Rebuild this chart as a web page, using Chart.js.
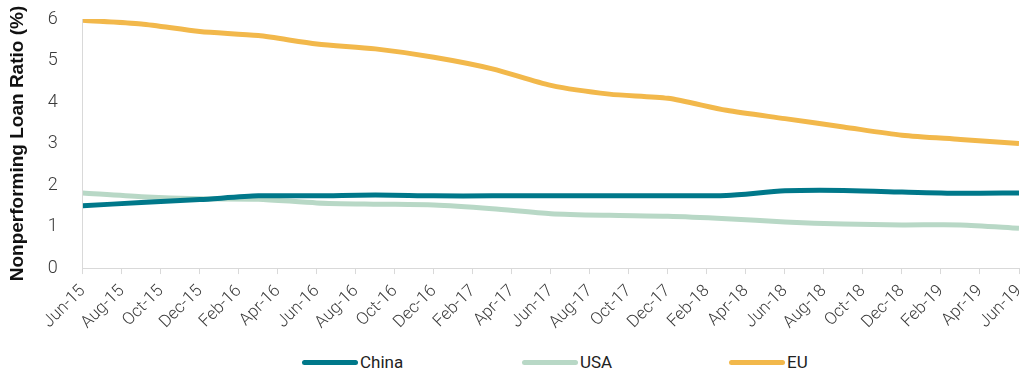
<!DOCTYPE html>
<html>
<head>
<meta charset="utf-8">
<script src="https://cdn.jsdelivr.net/npm/chart.js@4.4.1/dist/chart.umd.min.js"></script>
<style>
  html, body { margin: 0; padding: 0; background: #fff; }
  #page { position: relative; width: 1021px; height: 370px; overflow: hidden; }
  #wrap { position: absolute; left: 0; top: 0; width: 1021px; height: 344px; }
  #legend { position: absolute; left: 302px; top: 352px; display: flex; font-family: Roboto, 'Liberation Sans', sans-serif; font-size: 17px; color: #222; }
  .item { display: flex; align-items: center; height: 20px; }
  .swatch { width: 56px; height: 5px; border-radius: 3px; margin-right: 2px; }
</style>
</head>
<body>
<div id="page">
  <div id="wrap"><canvas id="nplChart"></canvas></div>
  <div id="legend"></div>
</div>
<script>
// 季度数据（2015年6月 - 2019年6月）
const quarters = ['Jun-15', 'Sep-15', 'Dec-15', 'Mar-16', 'Jun-16', 'Sep-16', 'Dec-16', 'Mar-17', 'Jun-17',
                  'Sep-17', 'Dec-17', 'Mar-18', 'Jun-18', 'Sep-18', 'Dec-18', 'Mar-19', 'Jun-19'];
const chinaValues = [1.50, 1.58, 1.65, 1.74, 1.74, 1.76, 1.74, 1.74, 1.74, 1.74, 1.74, 1.75, 1.86, 1.87, 1.83, 1.80, 1.81];
const usaValues = [1.81, 1.72, 1.67, 1.66, 1.57, 1.54, 1.52, 1.43, 1.31, 1.27, 1.25, 1.19, 1.11, 1.06, 1.04, 1.04, 0.96];
const euValues = [5.97, 5.88, 5.70, 5.60, 5.40, 5.28, 5.08, 4.80, 4.40, 4.19, 4.09, 3.80, 3.60, 3.40, 3.20, 3.10, 3.00];

// x轴刻度标签（每两个月）
const tickLabels = ['Jun-15', 'Aug-15', 'Oct-15', 'Dec-15', 'Feb-16', 'Apr-16', 'Jun-16', 'Aug-16', 'Oct-16',
                    'Dec-16', 'Feb-17', 'Apr-17', 'Jun-17', 'Aug-17', 'Oct-17', 'Dec-17', 'Feb-18', 'Apr-18',
                    'Jun-18', 'Aug-18', 'Oct-18', 'Dec-18', 'Feb-19', 'Apr-19', 'Jun-19'];

// 季度 -> 月份序号（从 Jun-15 起）
function toPoints(values) {
    return values.map((v, i) => ({ x: i * 3, y: v }));
}

const axisColor = '#d9d9d9';
const textColor = '#3a3a3a';
const fontFamily = "Roboto, 'Liberation Sans', sans-serif";

function makeDataset(label, values, color) {
    return {
        label: label,
        data: toPoints(values),
        borderColor: color,
        backgroundColor: color,
        borderWidth: 5,
        pointRadius: 0,
        tension: 0.25,
        fill: false
    };
}

const datasets = [
    makeDataset('China', chinaValues, '#00788a'),
    makeDataset('USA', usaValues, '#b8d8c6'),
    makeDataset('EU', euValues, '#f2b84b')
];

// 图例（HTML）
const legendWidths = [220, 207, 120];
const legendEl = document.getElementById('legend');
datasets.forEach((ds, i) => {
    const item = document.createElement('div');
    item.className = 'item';
    item.style.width = legendWidths[i] + 'px';
    const sw = document.createElement('span');
    sw.className = 'swatch';
    sw.style.background = ds.borderColor;
    const txt = document.createElement('span');
    txt.textContent = ds.label;
    item.appendChild(sw);
    item.appendChild(txt);
    legendEl.appendChild(item);
});

const ctx = document.getElementById('nplChart').getContext('2d');
new Chart(ctx, {
    type: 'line',
    data: { datasets: datasets },
    options: {
        responsive: true,
        maintainAspectRatio: false,
        animation: false,
        layout: { padding: { top: 0, right: 2, left: 6, bottom: 4 } },
        plugins: {
            legend: { display: false },
            tooltip: { enabled: false }
        },
        scales: {
            x: {
                type: 'linear',
                min: 0,
                max: 48,
                afterFit: function(scale) {
                    scale.paddingRight = 0;
                },
                grid: {
                    drawOnChartArea: false,
                    color: axisColor,
                    tickLength: 6
                },
                border: { color: axisColor, width: 1 },
                ticks: {
                    stepSize: 2,
                    autoSkip: false,
                    minRotation: 45,
                    maxRotation: 45,
                    color: textColor,
                    padding: 7,
                    font: { family: fontFamily, size: 17, weight: 300 },
                    callback: function(value) {
                        return tickLabels[value / 2];
                    }
                }
            },
            y: {
                min: 0,
                max: 6,
                afterFit: function(scale) {
                    // 顶部只留半个标签高度
                    scale.paddingTop = 19;
                },
                grid: { display: false },
                border: { color: axisColor, width: 1 },
                ticks: {
                    stepSize: 1,
                    color: textColor,
                    padding: 17,
                    font: { family: fontFamily, size: 18, weight: 300 }
                },
                title: {
                    display: true,
                    text: 'Nonperforming Loan Ratio (%)',
                    color: '#111',
                    font: { family: "'Liberation Sans', Arial, sans-serif", size: 19, weight: 'bold' },
                    padding: { top: 0, bottom: 2 }
                }
            }
        }
    }
});
</script>
</body>
</html>
